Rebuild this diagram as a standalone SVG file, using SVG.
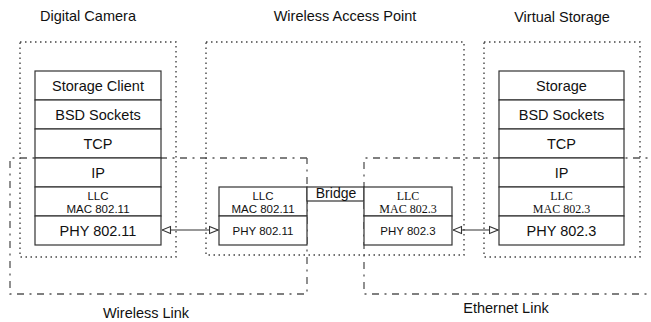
<svg xmlns="http://www.w3.org/2000/svg" width="651" height="322" viewBox="0 0 651 322">
<style>
.bg{fill:#fff}
.dot{fill:none;stroke:#444;stroke-width:1.4;stroke-dasharray:1.5 3.5}
.dd{fill:none;stroke:#555;stroke-width:1.3;stroke-dasharray:7 5.5 2 5.5}
.cell{fill:#fff;stroke:#333;stroke-width:1.2}
.t{font-family:"Liberation Sans",Arial,sans-serif;fill:#111;text-anchor:middle}
.title{font-size:14.5px}
.big{font-size:14.5px}
.sm{font-size:11.5px}
.ser{font-family:"Liberation Serif","Times New Roman",serif;font-size:12px;fill:#111;text-anchor:middle}
.link{stroke:#333;stroke-width:1.2;fill:none}
</style>
<defs>
<marker id="ah" viewBox="0 0 10 10" refX="9.5" refY="5" markerWidth="10" markerHeight="10" markerUnits="userSpaceOnUse" orient="auto-start-reverse">
<path d="M1,1.5 L9.5,5 L1,8.5 Z" fill="#fff" stroke="#333" stroke-width="1.1"/>
</marker>
</defs>
<rect class="bg" x="0" y="0" width="651" height="322"/>

<g id="wireless-link">
<path class="dd" d="M307,158 H10 V294 H307 V158"/>
<text class="t title" x="146" y="318">Wireless Link</text>
</g>
<g id="ethernet-link">
<path class="dd" d="M660,158 H364 V294 H660"/>
<text class="t title" x="506" y="313">Ethernet Link</text>
</g>

<g id="digital-camera">
<rect class="dot" x="20" y="42" width="156" height="215"/>
<text class="t title" x="88" y="21">Digital Camera</text>
<rect class="cell" x="35" y="71" width="126" height="29"/>
<rect class="cell" x="35" y="100" width="126" height="29"/>
<rect class="cell" x="35" y="129" width="126" height="29"/>
<rect class="cell" x="35" y="158" width="126" height="29"/>
<rect class="cell" x="35" y="187" width="126" height="29"/>
<rect class="cell" x="35" y="216" width="126" height="29"/>
<text class="t big" x="98" y="91">Storage Client</text>
<text class="t big" x="98" y="120">BSD Sockets</text>
<text class="t big" x="98" y="149">TCP</text>
<text class="t big" x="98" y="178">IP</text>
<text class="t sm" x="98" y="200">LLC</text>
<text class="t sm" x="98" y="213">MAC 802.11</text>
<text class="t big" x="98" y="236">PHY 802.11</text>
</g>

<g id="wireless-access-point">
<rect class="dot" x="206" y="42" width="258" height="213"/>
<text class="t title" x="345" y="21">Wireless Access Point</text>
<rect class="cell" x="219" y="187" width="88" height="29"/>
<rect class="cell" x="219" y="216" width="88" height="29"/>
<text class="t sm" x="263" y="200">LLC</text>
<text class="t sm" x="263" y="213">MAC 802.11</text>
<text class="t sm" x="263" y="235">PHY 802.11</text>
<rect class="cell" x="307" y="187" width="57" height="14"/>
<text class="t" style="font-size:14px" x="336" y="198">Bridge</text>
<rect class="cell" x="364" y="187" width="88" height="29"/>
<rect class="cell" x="364" y="216" width="88" height="29"/>
<text class="ser" x="408" y="200">LLC</text>
<text class="ser" x="408" y="213">MAC 802.3</text>
<text class="t sm" x="408" y="235">PHY 802.3</text>
</g>

<g id="virtual-storage">
<rect class="dot" x="484" y="42" width="156" height="215"/>
<text class="t title" x="562" y="22">Virtual Storage</text>
<rect class="cell" x="499" y="71" width="125" height="29"/>
<rect class="cell" x="499" y="100" width="125" height="29"/>
<rect class="cell" x="499" y="129" width="125" height="29"/>
<rect class="cell" x="499" y="158" width="125" height="29"/>
<rect class="cell" x="499" y="187" width="125" height="29"/>
<rect class="cell" x="499" y="216" width="125" height="29"/>
<text class="t big" x="561.5" y="91">Storage</text>
<text class="t big" x="561.5" y="120">BSD Sockets</text>
<text class="t big" x="561.5" y="149">TCP</text>
<text class="t big" x="561.5" y="178">IP</text>
<text class="ser" x="561.5" y="200">LLC</text>
<text class="ser" x="561.5" y="213">MAC 802.3</text>
<text class="t big" x="561.5" y="236">PHY 802.3</text>
</g>

<g id="connectors">
<line class="link" x1="162" y1="230" x2="218" y2="230" marker-start="url(#ah)" marker-end="url(#ah)"/>
<line class="link" x1="453" y1="230" x2="498" y2="230" marker-start="url(#ah)" marker-end="url(#ah)"/>
</g>
</svg>
